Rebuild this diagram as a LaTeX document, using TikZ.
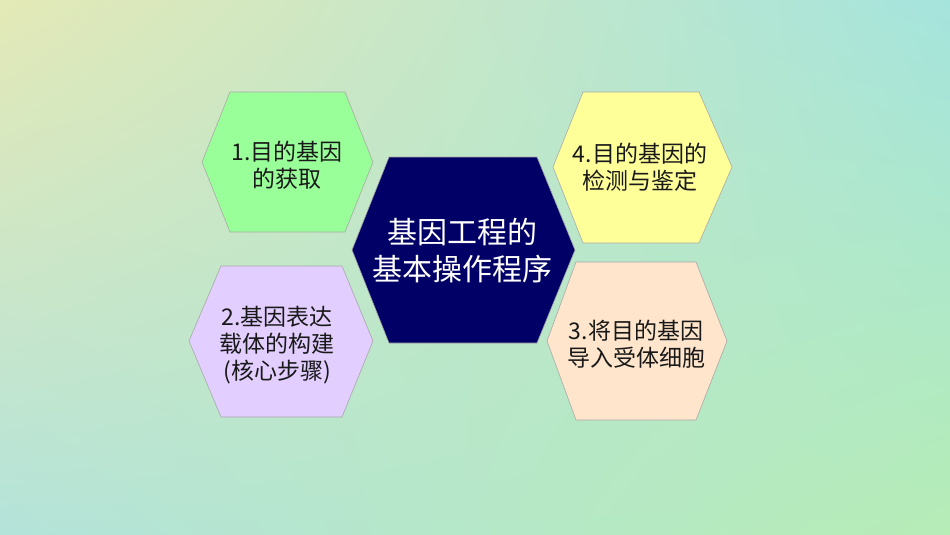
\documentclass[tikz,border=0pt]{standalone}
\usepackage{fontspec}
\setmainfont{Noto Sans CJK SC}
\usetikzlibrary{shadings}
\definecolor{bgUL}{HTML}{E4E9B6}
\definecolor{bgUR}{HTML}{A5E4DD}
\definecolor{bgLL}{HTML}{B4E3DA}
\definecolor{bgLR}{HTML}{B6ECB6}
\definecolor{hexgreen}{HTML}{99FF99}
\definecolor{hexyellow}{HTML}{FFFF99}
\definecolor{hexpurple}{HTML}{E2CEFF}
\definecolor{hexpeach}{HTML}{FFE5CC}
\definecolor{hexnavy}{HTML}{000066}
\definecolor{hexline}{HTML}{A8A8A8}
\tikzset{
  hexcell/.style={draw=hexline, line width=0.6pt},
  smalltext/.style={align=center, text=black!90, font=\fontsize{23}{27}\selectfont, inner sep=0pt},
  bigtext/.style={align=center, text=white, font=\fontsize{30}{37}\selectfont, inner sep=0pt}
}
\begin{document}
\begin{tikzpicture}[x=1pt,y=-1pt]
\useasboundingbox (0,0) rectangle (950,535);
\shade[upper left=bgUL, upper right=bgUR, lower left=bgLL, lower right=bgLR] (0,0) rectangle (950,535);
% hexagons
\filldraw[hexcell, fill=hexgreen]  (202,162)--(230,92)--(345,92)--(373,162)--(345,232)--(230,232)--cycle;
\filldraw[hexcell, fill=hexyellow] (553,167)--(583,92)--(699,92)--(732,167)--(699,243)--(583,243)--cycle;
\filldraw[hexcell, fill=hexpurple] (189,341)--(221,266)--(342,266)--(373,341)--(342,417)--(221,417)--cycle;
\filldraw[hexcell, fill=hexpeach]  (547,341)--(576,262)--(696,262)--(727,341)--(696,420)--(576,420)--cycle;
\filldraw[hexcell, fill=hexnavy]   (352,250)--(389,157)--(537,157)--(575,250)--(537,343)--(389,343)--cycle;
% texts
\node[smalltext] (s1) at (287,165) {1.目的基因\\的获取};
\node[smalltext] (s4) at (640,167) {4.目的基因的\\检测与鉴定};
\node[smalltext] (s2) at (277,345) {2.基因表达\\载体的构建\\(核心步骤)};
\node[smalltext] (s3) at (636,344) {3.将目的基因\\导入受体细胞};
\node[bigtext] (c) at (462,251) {基因工程的\\基本操作程序};
\end{tikzpicture}
\end{document}
